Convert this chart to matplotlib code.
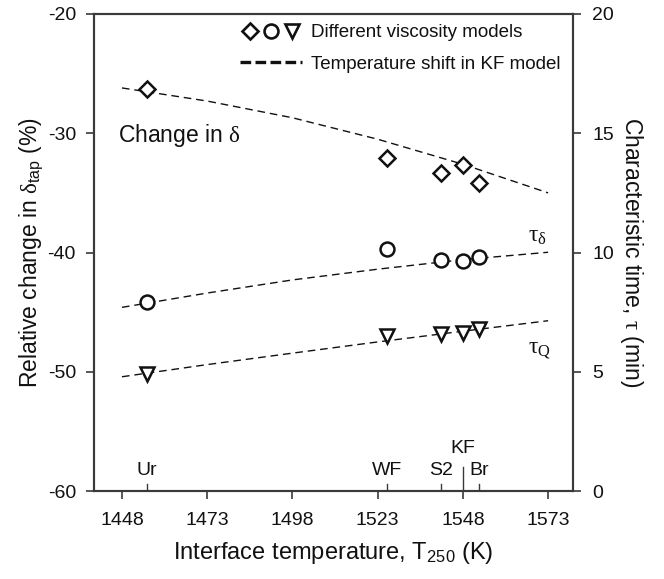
import numpy as np
import matplotlib
matplotlib.use("Agg")
import matplotlib.pyplot as plt
from matplotlib.lines import Line2D
from matplotlib.legend_handler import HandlerTuple

plt.rcParams['font.family'] = ['Liberation Sans', 'DejaVu Sans']
plt.rcParams['mathtext.fontset'] = 'custom'
plt.rcParams['mathtext.rm'] = 'Liberation Serif'
plt.rcParams['mathtext.it'] = 'Liberation Serif:italic'
plt.rcParams['mathtext.sf'] = 'Liberation Sans'
plt.rcParams['axes.unicode_minus'] = False

# viscosity models and their interface temperature (K)
models = ["Ur", "WF", "S2", "KF", "Br"]
temps = [1455.2, 1525.7, 1541.5, 1547.9, 1552.7]

# relative change in delta_tap (%), left axis
delta_change = [-26.3, -32.05, -33.3, -32.65, -34.2]
# characteristic times (min), right axis
tau_delta = [7.94, 10.15, 9.67, 9.64, 9.82]
tau_q = [4.92, 6.51, 6.58, 6.64, 6.79]

# temperature shift in KF model (dashed curves)
shift_t = [1448, 1473, 1498, 1523, 1548, 1573]
shift_delta = [-26.2, -27.3, -28.7, -30.5, -32.6, -35.0]
shift_tau_delta = [7.70, 8.30, 8.85, 9.30, 9.70, 10.01]
shift_tau_q = [4.79, 5.30, 5.78, 6.25, 6.70, 7.14]

x_ticks = [1448, 1473, 1498, 1523, 1548, 1573]

ink = "#111111"
spine_col = "#3a3a3a"

fig = plt.figure(figsize=(6.64, 5.79), dpi=100)
ax = fig.add_axes([94 / 664, 88 / 579, 479 / 664, 477 / 579])
ax2 = ax.twinx()

dash = (0, (5.5, 3.5))
ax.plot(shift_t, shift_delta, color=ink, lw=1.0, linestyle=dash, zorder=2)
ax2.plot(shift_t, shift_tau_delta, color=ink, lw=1.0, linestyle=dash, zorder=2)
ax2.plot(shift_t, shift_tau_q, color=ink, lw=1.0, linestyle=dash, zorder=2)

mk = dict(linestyle="none", mfc="white", mec=ink, mew=1.8, zorder=3)
ax.plot(temps, delta_change, marker="D", ms=8.5, **mk)
ax2.plot(temps, tau_delta, marker="o", ms=10, **mk)
ax2.plot(temps, tau_q, marker="v", ms=10, **mk)

ax.set_xlim(1439.8, 1580.3)
ax.set_ylim(-60, -20)
ax2.set_ylim(0, 20)
ax.set_xticks(x_ticks)
ax.set_yticks([-60, -50, -40, -30, -20])
ax2.set_yticks([0, 5, 10, 15, 20])

for a in (ax, ax2):
    for s in a.spines.values():
        s.set_color(spine_col)
        s.set_linewidth(1.5)
    a.tick_params(direction="out", length=6, width=1.2, color=spine_col,
                  labelsize=14, labelcolor=ink, pad=7)
ax.tick_params(axis="x", pad=9)
ax2.tick_params(axis="y", pad=8)

ax.set_xlabel(r"Interface temperature, T$_{\mathsf{250}}$ (K)", fontsize=17, color=ink,
              labelpad=8)
ax.set_ylabel(r"Relative change in $\mathrm{\delta}_{\mathsf{tap}}$ (%)", fontsize=16.5,
              color=ink, labelpad=2)
ax2.set_ylabel(r"Characteristic time, $\mathrm{\tau}$ (min)", fontsize=16.5, color=ink,
               rotation=270, labelpad=22)

# model markers along the bottom axis
trans = ax.get_xaxis_transform()
for name, t in zip(models, temps):
    if name == "KF":
        ax.axvline(t, ymin=0, ymax=0.05, color=spine_col, lw=1.0)
        ax.text(t, 0.072, name, transform=trans, ha="center", va="bottom",
                fontsize=14, color=ink)
    else:
        ax.axvline(t, ymin=0, ymax=0.014, color=spine_col, lw=1.0)
        ax.text(t, 0.025, name, transform=trans, ha="center", va="bottom",
                fontsize=14, color=ink)

ax.text(0.05, 0.745, r"Change in $\mathrm{\delta}$", transform=ax.transAxes, fontsize=16.5,
        color=ink, va="center")
ax.text(0.906, 0.535, r"$\mathrm{\tau}_\mathrm{\delta}$", transform=ax.transAxes, fontsize=17,
        color=ink, va="center")
ax.text(0.906, 0.295, r"$\mathrm{\tau}_\mathrm{Q}$", transform=ax.transAxes, fontsize=17,
        color=ink, va="center")

# legend
lm = dict(linestyle="none", mfc="white", mec=ink, mew=1.9)
h_models = (Line2D([], [], marker="D", ms=8, **lm),
            Line2D([], [], marker="o", ms=10, **lm),
            Line2D([], [], marker="v", ms=10, **lm))
h_shift = Line2D([], [], color=ink, lw=2.4, linestyle=(0, (3.2, 1.3)))
leg = ax.legend([h_models, h_shift],
                ["Different viscosity models", "Temperature shift in KF model"],
                handler_map={tuple: HandlerTuple(ndivide=None, pad=0.05)},
                loc="upper right", bbox_to_anchor=(0.995, 1.0), frameon=False,
                fontsize=13.5, handlelength=3.3, handletextpad=0.45, labelspacing=0.75,
                borderaxespad=0.15)
for t in leg.get_texts():
    t.set_color(ink)

fig.savefig("out.png", dpi=100)
